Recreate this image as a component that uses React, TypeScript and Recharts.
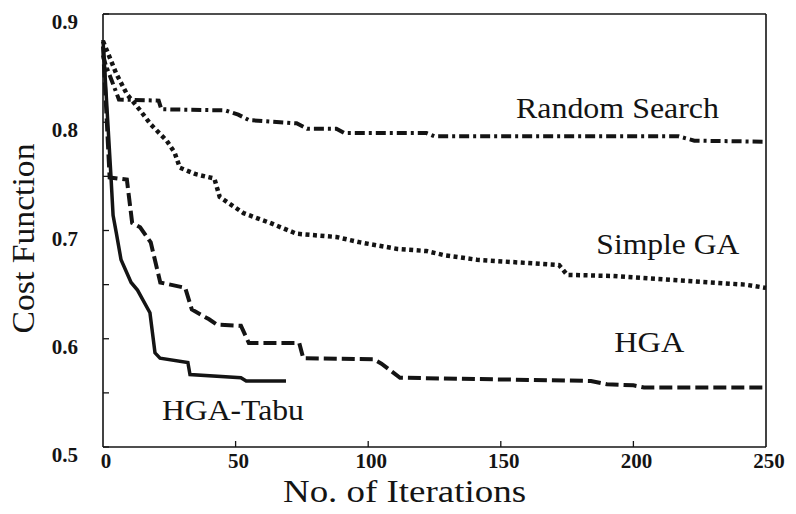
import React from 'react';
import { LineChart, Line, XAxis, YAxis, ReferenceDot } from 'recharts';

// iteration / cost pairs
const tabuIter = [0, 3, 3.8, 5, 6.8, 10.6, 13, 17.7, 19.6, 21.5, 32, 32.8, 52, 54, 69];
const tabuCost = [0.876, 0.75, 0.714, 0.698, 0.673, 0.652, 0.645, 0.624, 0.587, 0.582, 0.578, 0.567, 0.564, 0.561, 0.561];

const hgaIter = [0, 2.5, 9, 11, 14, 18, 21.6, 31, 33.5, 40, 43, 52, 55, 74, 75.5, 102, 105, 112, 184, 190, 200, 204, 250];
const hgaCost = [0.87, 0.749, 0.747, 0.707, 0.703, 0.689, 0.652, 0.647, 0.627, 0.618, 0.613, 0.612, 0.596, 0.596, 0.582, 0.581, 0.577, 0.564, 0.561, 0.558, 0.557, 0.555, 0.555];

const gaIter = [0, 5, 9, 14, 18, 24, 27, 29, 35, 42, 44, 53, 63, 73, 88, 97, 111, 122, 129, 141, 172, 175, 192, 217, 242, 250];
const gaCost = [0.875, 0.845, 0.826, 0.811, 0.798, 0.783, 0.772, 0.758, 0.752, 0.748, 0.731, 0.716, 0.707, 0.697, 0.694, 0.689, 0.683, 0.681, 0.677, 0.673, 0.668, 0.659, 0.658, 0.654, 0.65, 0.647];

const rsIter = [0, 1, 4, 6, 21, 22, 46, 51, 55, 73, 77, 88, 91, 122, 125, 217, 223, 250];
const rsCost = [0.862, 0.853, 0.834, 0.821, 0.82, 0.812, 0.811, 0.807, 0.802, 0.799, 0.794, 0.794, 0.79, 0.79, 0.787, 0.787, 0.783, 0.782];

const xTicks = [0, 50, 100, 150, 200, 250];
const yTicks = [0.5, 0.55, 0.6, 0.65, 0.7, 0.75, 0.8, 0.85, 0.9];

// name, iteration, cost, text width in the scan
const tagNames = ['Random Search', 'Simple GA', 'HGA', 'HGA-Tabu'];
const tagIter = [194, 213, 206, 49];
const tagCost = [0.804, 0.678, 0.588, 0.525];
const tagWidth = [203, 143, 70, 142];

const FONT = '"Liberation Serif", "Times New Roman", serif';
const INK = '#141414';

const toPoints = (xs: number[], ys: number[]) => xs.map((x, i) => ({ iter: x, cost: ys[i] }));

const isMajorY = (v: number) => Math.abs(v * 10 - Math.round(v * 10)) < 1e-6;
const isEdgeX = (v: number) => v === 0 || v === 250;

const LeftTick = ({ x, y, payload }: any) => (
  <g>
    <line x1={x} x2={x + 6} y1={y} y2={y} stroke={INK} strokeWidth={1.3} />
    {isMajorY(payload.value) && (
      <text x={x - 25} y={y + 8} textAnchor="end" dominantBaseline="central"
        fontFamily={FONT} fontSize={21} fontWeight="bold" fill={INK}>
        {payload.value.toFixed(1)}
      </text>
    )}
  </g>
);

const RightTick = ({ x, y }: any) => (
  <line x1={x - 6} x2={x} y1={y} y2={y} stroke={INK} strokeWidth={1.3} />
);

const BottomTick = ({ x, y, payload }: any) => (
  <g>
    {!isEdgeX(payload.value) && <line x1={x} x2={x} y1={y - 6} y2={y} stroke={INK} strokeWidth={1.3} />}
    <text x={x + 3} y={y + 14} textAnchor="middle" dominantBaseline="central"
      fontFamily={FONT} fontSize={21} fontWeight="bold" fill={INK}>
      {payload.value}
    </text>
  </g>
);

const TopTick = ({ x, y, payload }: any) =>
  isEdgeX(payload.value) ? <g /> : <line x1={x} x2={x} y1={y} y2={y + 6} stroke={INK} strokeWidth={1.3} />;

const XTitle = ({ viewBox }: any) => (
  <text x={viewBox.x + viewBox.width / 2 - 30} y={viewBox.y + 55} textAnchor="middle"
    fontFamily={FONT} fontSize={31} fill={INK} textLength={243} lengthAdjust="spacingAndGlyphs">
    No. of Iterations
  </text>
);

const YTitle = ({ viewBox }: any) => {
  const cx = 34;
  const cy = viewBox.y + viewBox.height / 2 + 8;
  return (
    <text x={cx} y={cy} transform={`rotate(-90 ${cx} ${cy})`} textAnchor="middle"
      fontFamily={FONT} fontSize={31} fill={INK} textLength={190} lengthAdjust="spacingAndGlyphs">
      Cost Function
    </text>
  );
};

const tagLabel = (text: string, width: number) => ({ viewBox }: any) => (
  <text x={viewBox.x + viewBox.width / 2} y={viewBox.y + viewBox.height / 2} textAnchor="middle"
    fontFamily={FONT} fontSize={29} fill={INK} textLength={width} lengthAdjust="spacingAndGlyphs">
    {text}
  </text>
);

export default function App() {
  return (
    <div style={{ position: 'absolute', left: 0, top: 0, width: 796, height: 514, background: '#fff' }}>
      <LineChart width={796} height={514} margin={{ top: 0, right: 0, bottom: 0, left: 0 }}>
        <XAxis xAxisId={0} dataKey="iter" type="number" domain={[0, 250]} ticks={xTicks} interval={0}
          height={67} tickSize={0} tickMargin={0} tick={<BottomTick />}
          axisLine={{ stroke: INK, strokeWidth: 1.6 }} label={XTitle} />
        <XAxis xAxisId="top" orientation="top" dataKey="iter" type="number" domain={[0, 250]} ticks={xTicks}
          interval={0} height={14} tickSize={0} tickMargin={0} tick={<TopTick />}
          axisLine={{ stroke: INK, strokeWidth: 1.6 }} />
        <YAxis yAxisId={0} dataKey="cost" type="number" domain={[0.5, 0.9]} ticks={yTicks} interval={0}
          width={103} tickSize={0} tickMargin={0} tick={<LeftTick />}
          axisLine={{ stroke: INK, strokeWidth: 1.6 }} label={YTitle} />
        <YAxis yAxisId="right" orientation="right" dataKey="cost" type="number" domain={[0.5, 0.9]} ticks={yTicks}
          interval={0} width={30} tickSize={0} tickMargin={0} tick={<RightTick />}
          axisLine={{ stroke: INK, strokeWidth: 1.6 }} />

        <Line data={toPoints(rsIter, rsCost)} dataKey="cost" type="linear" stroke={INK} strokeWidth={4}
          strokeDasharray="10 4 3 4" dot={false} isAnimationActive={false} />
        <Line data={toPoints(gaIter, gaCost)} dataKey="cost" type="linear" stroke={INK} strokeWidth={4.5}
          strokeDasharray="4 3.5" dot={false} isAnimationActive={false} />
        <Line data={toPoints(hgaIter, hgaCost)} dataKey="cost" type="linear" stroke={INK} strokeWidth={4}
          strokeDasharray="13 5" dot={false} isAnimationActive={false} />
        <Line data={toPoints(tabuIter, tabuCost)} dataKey="cost" type="linear" stroke={INK} strokeWidth={3.5}
          dot={false} isAnimationActive={false} />

        {tagNames.map((name, i) => (
          <ReferenceDot key={name} x={tagIter[i]} y={tagCost[i]} r={0} fill="none" stroke="none"
            label={tagLabel(name, tagWidth[i])} />
        ))}
      </LineChart>
    </div>
  );
}
